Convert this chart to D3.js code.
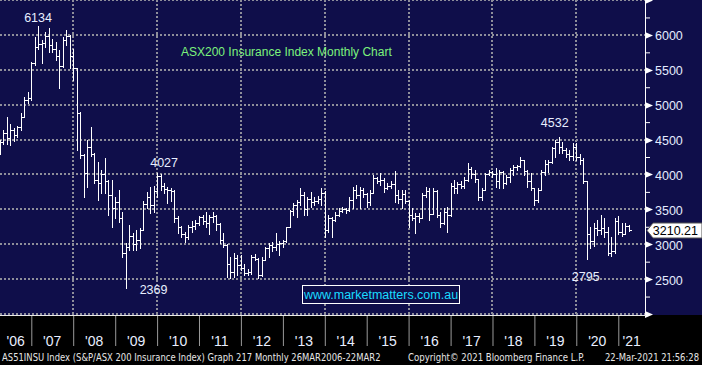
<!DOCTYPE html>
<html>
<head>
<meta charset="utf-8">
<script src="https://cdn.jsdelivr.net/npm/d3@7"></script>
<style>
  html, body { margin: 0; padding: 0; background: #000; }
  #chart { width: 702px; height: 365px; }
  svg { display: block; }
</style>
</head>
<body>
<div id="chart"></div>
<script>
// Monthly bars, one value per month starting Mar 2006 (last bar Mar 2021)
const firstMonth = new Date(2006, 2, 1);

const opens = [
  4330, 4460, 4600, 4520, 4640, 4560, 4680, 4830, 5060, 5100,
  5590, 5830, 5870, 5880, 5980, 5850, 5800, 5700, 5560, 5930, 5980, 5700,
  5520, 4880, 4280, 4020, 4400, 4300, 3920, 3880, 4000, 3900, 3700, 3520,
  3600, 3380, 2880, 2960, 3120, 3000, 3060, 3200, 3570, 3680, 3560, 3760,
  3980, 3830, 3790, 3780, 3760, 3380, 3240, 3140, 3100, 3250, 3260, 3300,
  3390, 3330, 3300, 3390, 3400, 3290, 3060, 2990, 2720, 2600, 2800, 2700,
  2660, 2590, 2600, 2820, 2790, 2560, 2780, 2940, 2990, 2960, 3000, 3020,
  3040, 3240, 3470, 3560, 3600, 3700, 3500, 3650, 3600, 3620, 3650, 3740,
  3200, 3380, 3340, 3420, 3480, 3500, 3490, 3640, 3780, 3700, 3780, 3720,
  3600, 3740, 3950, 3900, 3920, 3800, 3830, 3860, 3700, 3650, 3720, 3620,
  3420, 3380, 3400, 3380, 3700, 3760, 3440, 3760, 3420, 3300, 3460, 3420,
  3840, 3800, 3860, 3840, 3920, 4080, 4000, 3930, 3680, 3780, 4000, 4040,
  4000, 3900, 4040, 3880, 3960, 4060, 4100, 4120, 4200, 4050, 3900, 3800,
  3640, 3780, 4040, 4150, 4180, 4380, 4460, 4400, 4350, 4300, 4260, 4400,
  4250, 4200, 3900, 3150, 3050, 3230, 3200, 3230, 3180, 2880, 2900, 3330,
  3170, 3150, 3260
];
const highs = [
  4494, 4640, 4820, 4720, 4660, 4700, 4880, 5110, 5180, 5610,
  5970, 6134, 5930, 6040, 6100, 5940, 5900, 5790, 5970, 6070, 6000, 5800,
  5530, 4900, 4300, 4494, 4680, 4310, 4180, 4060, 4230, 3920, 3920, 3680,
  3777, 3460, 3020, 3275, 3160, 3200, 3230, 3620, 3750, 3820, 3830, 4027,
  4000, 3880, 3820, 3800, 3770, 3400, 3260, 3180, 3270, 3330, 3350, 3410,
  3420, 3460, 3420, 3460, 3420, 3300, 3160, 3000, 2820, 2880, 2840, 2850,
  2720, 2650, 2850, 2860, 2800, 2820, 2960, 3020, 3030, 3160, 3040, 3060,
  3250, 3490, 3590, 3630, 3806, 3750, 3680, 3750, 3680, 3690, 3806, 3760,
  3419, 3390, 3462, 3519, 3533, 3520, 3677, 3820, 3849, 3820, 3800, 3734,
  3777, 3992, 3963, 4021, 3949, 3877, 3900, 4049, 3777, 3777, 3777, 3640,
  3519, 3447, 3447, 3734, 3820, 3806, 3806, 3780, 3462, 3519, 3533, 3877,
  3920, 3892, 3900, 3963, 4164, 4107, 4064, 3935, 3806, 4021, 4064, 4050,
  4092, 4064, 4050, 3992, 4092, 4135, 4135, 4250, 4210, 4064, 4021, 3806,
  3806, 4064, 4207, 4207, 4393, 4500, 4532, 4465, 4379, 4350, 4450, 4450,
  4300, 4236, 3910, 3250, 3300, 3350, 3420, 3380, 3250, 3100, 3380, 3400,
  3300, 3300, 3280
];
const lows = [
  4300, 4430, 4440, 4420, 4480, 4530, 4640, 4820, 5020, 5070,
  5570, 5800, 5600, 5820, 5750, 5750, 5640, 5240, 5540, 5850, 5530, 5350,
  4350, 4240, 3680, 3820, 4270, 3880, 3640, 3730, 3730, 3420, 3250, 3380,
  3320, 2820, 2369, 2920, 2920, 2920, 2950, 3200, 3520, 3450, 3460, 3680,
  3777, 3740, 3590, 3620, 3320, 3160, 3100, 3030, 3080, 3180, 3220, 3280,
  3290, 3250, 3150, 3320, 3200, 3020, 2960, 2530, 2520, 2530, 2560, 2630,
  2560, 2560, 2570, 2770, 2516, 2540, 2770, 2820, 2910, 2920, 2850, 2960,
  3030, 3240, 3420, 3390, 3560, 3420, 3420, 3530, 3560, 3590, 3560, 3103,
  3180, 3103, 3330, 3410, 3462, 3450, 3480, 3519, 3662, 3519, 3677, 3533,
  3562, 3734, 3877, 3849, 3748, 3790, 3800, 3605, 3591, 3519, 3591, 3247,
  3347, 3161, 3318, 3370, 3677, 3347, 3430, 3390, 3247, 3290, 3175, 3410,
  3734, 3734, 3806, 3806, 3900, 3949, 3892, 3634, 3634, 3770, 3992, 3963,
  3820, 3806, 3806, 3870, 3892, 3992, 4064, 4107, 3992, 3820, 3777, 3562,
  3605, 3770, 3992, 4035, 4164, 4250, 4307, 4307, 4250, 4207, 4207, 4200,
  4150, 3877, 2795, 2950, 2970, 3130, 3150, 3110, 2850, 2830, 2880, 3150,
  3120, 3160, 3190
];
const closes = [
  4460, 4600, 4520, 4640, 4560, 4680, 4830, 5060, 5100, 5590,
  5830, 5870, 5880, 5980, 5850, 5800, 5700, 5560, 5930, 5980, 5700, 5520,
  4880, 4280, 4020, 4400, 4300, 3920, 3880, 4000, 3900, 3700, 3520, 3600,
  3380, 2880, 2960, 3120, 3000, 3060, 3200, 3570, 3680, 3560, 3760, 3980,
  3830, 3790, 3780, 3760, 3380, 3240, 3140, 3100, 3250, 3260, 3300, 3390,
  3330, 3300, 3390, 3400, 3290, 3060, 2990, 2720, 2600, 2800, 2700, 2660,
  2590, 2600, 2820, 2790, 2560, 2780, 2940, 2990, 2960, 3000, 3020, 3040,
  3240, 3470, 3560, 3600, 3700, 3500, 3650, 3600, 3620, 3650, 3740, 3200,
  3380, 3340, 3420, 3480, 3500, 3490, 3640, 3780, 3700, 3780, 3720, 3600,
  3740, 3950, 3900, 3920, 3800, 3830, 3860, 3700, 3650, 3720, 3620, 3420,
  3380, 3400, 3380, 3700, 3760, 3440, 3760, 3420, 3300, 3460, 3420, 3840,
  3800, 3860, 3840, 3920, 4080, 4000, 3930, 3680, 3780, 4000, 4040, 4000,
  3900, 4040, 3880, 3960, 4060, 4100, 4120, 4200, 4050, 3900, 3800, 3640,
  3780, 4040, 4150, 4180, 4380, 4460, 4400, 4350, 4300, 4260, 4400, 4250,
  4200, 3900, 3150, 3050, 3230, 3200, 3230, 3180, 2880, 2900, 3330, 3170,
  3150, 3260, 3210.21
];

// Axis values and labels
const yMajorTicks = [2000, 2500, 3000, 3500, 4000, 4500, 5000, 5500, 6000, 6500];
const yMinorTicks = [2250, 2750, 3250, 3750, 4250, 4750, 5250, 5750, 6250];
const yLabels = [2500, 3000, 3500, 4000, 4500, 5000, 5500, 6000];
const yearStarts = [2006, 2007, 2008, 2009, 2010, 2011, 2012, 2013, 2014, 2015, 2016, 2017, 2018, 2019, 2020, 2021];
const yearLabels = ["'06", "'07", "'08", "'09", "'10", "'11", "'12", "'13", "'14", "'15", "'16", "'17", "'18", "'19", "'20", "'21"];
const gridYears = [2008, 2010, 2012, 2014, 2016, 2018, 2020];

// Peak / trough callouts (text, bar index)
const calloutText = ['6134', '4027', '2369', '4532', '2795'];
const calloutIndex = [11, 45, 36, 160, 168];
const calloutValue = [6134, 4027, 2369, 4532, 2795];
// offsets from the bar's point, in px (style only)
const calloutOffset = [[0, -4], [7, -6], [28, 6], [-4, -10], [-1, 22]];

const lastPrice = '3210.21';
const titleText = 'ASX200 Insurance Index Monthly Chart';
const siteText = 'www.marketmatters.com.au';
const footerLeft = 'AS51INSU Index (S&P/ASX 200 Insurance Index) Graph 217  Monthly 26MAR2006-22MAR2';
const footerMid = 'Copyright\u00a9 2021 Bloomberg Finance L.P.';
const footerRight = '22-Mar-2021 21:56:28';

let svg;
let x;
let y;
const width = 702;
const height = 365;
const axisX = 645;
const plotBottom = 315;
const navy = '#0f0e4a';
const labelFont = '"Liberation Sans", Arial, sans-serif';

function initializeChart() {
    svg = d3.select('#chart')
        .append('svg')
        .attr('width', width)
        .attr('height', height);

    svg.append('rect')
        .attr('width', width)
        .attr('height', height)
        .attr('fill', '#000');

    svg.append('rect')
        .attr('width', width)
        .attr('height', plotBottom)
        .attr('fill', navy);

    // Jan 2007 and Jan 2021 year separators sit at these pixels
    x = d3.scaleTime()
        .domain([new Date(2007, 0, 1), new Date(2021, 0, 1)])
        .range([31.3, 618.3]);

    y = d3.scaleLinear()
        .domain([2000, 6500])
        .range([314, 0]);

    drawGrid();
    drawBars();
    drawAxes();
    drawText();
}

function drawGrid() {
    const grid = svg.append('g')
        .attr('stroke', '#8e8e9a')
        .attr('stroke-width', 2)
        .attr('stroke-dasharray', '2,2');

    grid.selectAll('line.h')
        .data(yMajorTicks)
        .enter()
        .append('line')
        .attr('x1', 0)
        .attr('x2', axisX)
        .attr('y1', d => Math.round(y(d)))
        .attr('y2', d => Math.round(y(d)));

    grid.selectAll('line.v')
        .data(gridYears)
        .enter()
        .append('line')
        .attr('x1', d => Math.round(x(new Date(d, 0, 1))))
        .attr('x2', d => Math.round(x(new Date(d, 0, 1))))
        .attr('y1', 0)
        .attr('y2', plotBottom);
}

function drawBars() {
    const bars = closes.map((c, i) => ({
        date: d3.timeMonth.offset(firstMonth, i + 1),
        o: opens[i], h: highs[i], l: lows[i], c: c
    }));

    svg.append('g')
        .selectAll('path')
        .data(bars)
        .enter()
        .append('path')
        .attr('fill', 'none')
        .attr('stroke', '#fff')
        .attr('stroke-width', 1)
        .attr('shape-rendering', 'crispEdges')
        .attr('d', d => {
            const px = Math.round(x(d.date)) + 0.5;
            const yo = Math.round(y(d.o)) + 0.5;
            const yc = Math.round(y(d.c)) + 0.5;
            return `M${px},${Math.round(y(d.h))}V${Math.round(y(d.l)) + 1}` +
                `M${px - 2.5},${yo}H${px}` +
                `M${px},${yc}H${px + 2.5}`;
        });
}

function drawAxes() {
    // right value axis
    const yAxis = d3.axisRight(y)
        .tickValues(yMinorTicks.concat(yLabels))
        .tickSize(5)
        .tickSizeOuter(0)
        .tickPadding(5)
        .tickFormat(d => yLabels.includes(d) ? d : '');

    const ga = svg.append('g')
        .attr('transform', `translate(${axisX},0)`)
        .call(yAxis);

    ga.select('.domain').remove();
    ga.selectAll('.tick line').attr('stroke', '#fff');
    ga.selectAll('.tick text')
        .attr('fill', '#e4ecff')
        .attr('dy', '0.4em')
        .style('font-family', labelFont)
        .style('font-size', '12.5px');

    svg.append('line')
        .attr('x1', axisX + 0.5)
        .attr('x2', axisX + 0.5)
        .attr('y1', 0)
        .attr('y2', plotBottom)
        .attr('stroke', '#fff');

    // triangle markers on the major levels
    svg.append('g')
        .selectAll('path')
        .data(yMajorTicks)
        .enter()
        .append('path')
        .attr('fill', '#fff')
        .attr('d', d => {
            const ty = Math.round(y(d)) + 0.5;
            return `M${axisX},${ty - 3.5}L${axisX + 8},${ty}L${axisX},${ty + 3.5}Z`;
        });

    // bottom time axis: year separators
    const xAxis = d3.axisBottom(x)
        .tickValues(yearStarts.slice(1).map(yr => new Date(yr, 0, 1)))
        .tickSize(31)
        .tickSizeOuter(0)
        .tickFormat('');

    const gx = svg.append('g')
        .attr('transform', `translate(0,${plotBottom})`)
        .call(xAxis);

    gx.select('.domain').remove();
    gx.selectAll('.tick line').attr('stroke', '#9a9a9a');

    svg.append('line')
        .attr('x1', 0)
        .attr('x2', axisX + 1)
        .attr('y1', plotBottom + 0.5)
        .attr('y2', plotBottom + 0.5)
        .attr('stroke', '#e8e8e8');

    // year labels centred in the visible part of each year
    svg.append('g')
        .selectAll('text')
        .data(yearStarts)
        .enter()
        .append('text')
        .attr('x', (d) => {
            const x0 = Math.max(0, x(new Date(d, 0, 1)));
            const x1 = Math.min(axisX, x(new Date(d + 1, 0, 1)));
            return (x0 + x1) / 2;
        })
        .attr('y', 346)
        .attr('text-anchor', 'middle')
        .attr('fill', '#e8eeff')
        .style('font-family', labelFont)
        .style('font-size', '14px')
        .text((d, i) => yearLabels[i]);
}

// squeeze a footer string into a given span using a horizontal scale
function fitText(parent, str, left, span) {
    const t = parent.append('text')
        .attr('x', 0)
        .attr('y', 0)
        .text(str);
    const natural = t.node().getComputedTextLength();
    const k = Math.min(1, span / natural);
    t.attr('transform', `translate(${left},361) scale(${k},1)`);
}

function drawText() {
    // callouts
    svg.append('g')
        .selectAll('text')
        .data(calloutText)
        .enter()
        .append('text')
        .attr('x', (d, i) => x(d3.timeMonth.offset(firstMonth, calloutIndex[i] + 1)) + calloutOffset[i][0])
        .attr('y', (d, i) => y(calloutValue[i]) + calloutOffset[i][1])
        .attr('text-anchor', 'middle')
        .attr('fill', '#e8eeff')
        .style('font-family', labelFont)
        .style('font-size', '12.5px')
        .text(d => d);

    // title
    svg.append('text')
        .attr('x', 181)
        .attr('y', 56)
        .attr('fill', '#7cf27c')
        .style('font-family', labelFont)
        .style('font-size', '12px')
        .text(titleText);

    // website box
    svg.append('rect')
        .attr('x', 302.5)
        .attr('y', 285.5)
        .attr('width', 157)
        .attr('height', 18)
        .attr('fill', navy)
        .attr('stroke', '#fff')
        .attr('stroke-width', 1);

    svg.append('text')
        .attr('x', 381)
        .attr('y', 299)
        .attr('text-anchor', 'middle')
        .attr('fill', '#19dcff')
        .style('font-family', labelFont)
        .style('font-size', '12.5px')
        .text(siteText);

    // last price tag
    const ly = Math.round(y(3210.21)) + 0.5;
    svg.append('path')
        .attr('d', `M${axisX + 2},${ly}L${axisX + 8},${ly - 7.5}H${width}V${ly + 7.5}H${axisX + 8}Z`)
        .attr('fill', '#fff')
        .attr('stroke', '#555');

    svg.append('text')
        .attr('x', 698)
        .attr('y', ly + 4.5)
        .attr('text-anchor', 'end')
        .attr('fill', '#000')
        .style('font-family', labelFont)
        .style('font-size', '12.5px')
        .text(lastPrice);

    // footer
    const footer = svg.append('g')
        .attr('fill', '#e6e6e6')
        .style('font-family', '"Liberation Sans Narrow", "DejaVu Sans Condensed", sans-serif')
        .style('font-size', '10px');

    fitText(footer, footerLeft, 2, 379);
    fitText(footer, footerMid, 408, 177);
    fitText(footer, footerRight, 605, 94);
}

document.addEventListener('DOMContentLoaded', initializeChart);
</script>
</body>
</html>
